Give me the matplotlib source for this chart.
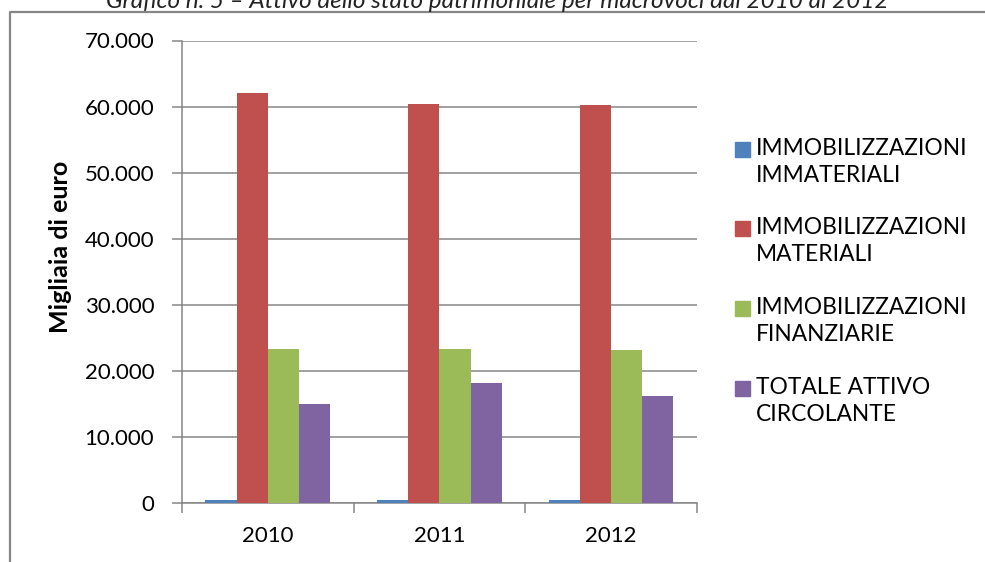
import matplotlib
matplotlib.use("Agg")
import matplotlib.pyplot as plt
import numpy as np
from matplotlib.patches import Rectangle
from matplotlib.lines import Line2D

# data (migliaia di euro)
years = ["2010", "2011", "2012"]
series = ["IMMOBILIZZAZIONI\nIMMATERIALI", "IMMOBILIZZAZIONI\nMATERIALI",
          "IMMOBILIZZAZIONI\nFINANZIARIE", "TOTALE ATTIVO\nCIRCOLANTE"]
immateriali = [480, 470, 460]
materiali = [62000, 60330, 60230]
finanziarie = [23320, 23320, 23170]
circolante = [15060, 18230, 16270]
yticks = [0, 10000, 20000, 30000, 40000, 50000, 60000, 70000]
ytick_labels = ["0", "10.000", "20.000", "30.000", "40.000", "50.000", "60.000", "70.000"]

colors = ["#4f81bd", "#c0504d", "#9bbb59", "#8064a2"]
grey = "#868686"
W, H = 985, 562

plt.rcParams["font.family"] = ["Lato", "DejaVu Sans"]

fig = plt.figure(figsize=(W / 100, H / 100), dpi=100)
ax = fig.add_axes([182 / W, 1 - 503.3 / H, (696.7 - 182) / W, (503.3 - 40.5) / H])

x = np.arange(len(years))
w = 1 / 5.5
values = [immateriali, materiali, finanziarie, circolante]
for i, vals in enumerate(values):
    ax.bar(x + (i - 1.5) * w, vals, width=w, color=colors[i], zorder=3,
           edgecolor="none")

ax.set_xlim(-0.5, len(years) - 0.5)
ax.set_ylim(0, 70000)
ax.set_yticks(yticks)
ax.set_yticklabels(ytick_labels, fontsize=16)
ax.yaxis.grid(True, color=grey, lw=1.1, zorder=0)
ax.set_xticks(x)
ax.set_xticklabels(years, fontsize=16)
ax.set_xticks(np.arange(len(years) + 1) - 0.5, minor=True)
ax.tick_params(axis="x", which="major", length=0, pad=16)
ax.tick_params(axis="x", which="minor", length=7, width=1.1, color=grey, direction="out")
ax.tick_params(axis="y", length=7, width=1.1, color=grey, pad=13)
for s in ["top", "right"]:
    ax.spines[s].set_visible(False)
for s in ["left", "bottom"]:
    ax.spines[s].set_color(grey)
    ax.spines[s].set_linewidth(1.1)

fig.text(60 / W, 1 - 247 / H, "Migliaia di euro", rotation=90, fontsize=18,
         fontweight="bold", ha="center", va="center")

# legend drawn by hand
for i, lab in enumerate(series):
    top = 141.7 + i * 79.7
    fig.patches.append(Rectangle((735 / W, 1 - (top + 15) / H), 15 / W, 15 / H,
                                 transform=fig.transFigure, color=colors[i]))
    fig.text(756 / W, 1 - (top - 4) / H, lab, fontsize=16.4, va="top", ha="left",
             linespacing=1.35)

# frame and cut title
fig.add_artist(Line2D([9.5 / W, 9.5 / W, 1.01], [0, 1 - 11.5 / H, 1 - 11.5 / H],
                      transform=fig.transFigure, color=grey, lw=1.6))
fig.text(497 / W, 1 - 8 / H,
         "Grafico n. 5 \u2013 Attivo dello stato patrimoniale per macrovoci dal 2010 al 2012",
         fontsize=17.5, style="italic", ha="center", va="baseline", color="#222222")

fig.savefig("out.png", dpi=100)
